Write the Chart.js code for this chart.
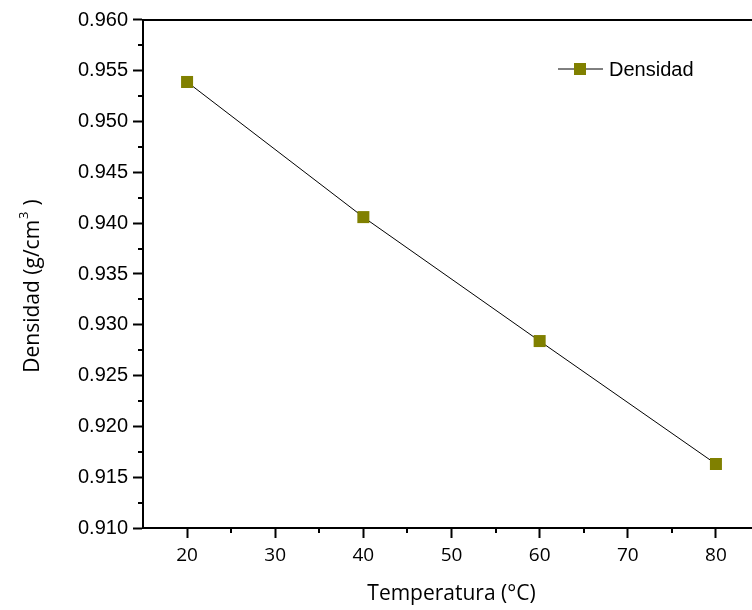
<!DOCTYPE html>
<html>
<head>
<meta charset="utf-8">
<script src="https://cdn.jsdelivr.net/npm/chart.js@4"></script>
<style>
  html, body { margin: 0; padding: 0; background: #fff; overflow: hidden; }
  #wrap { width: 770px; height: 610px; }
</style>
</head>
<body>
<div id="wrap"><canvas id="chart" width="770" height="610"></canvas></div>
<script>
// Datos
const temperaturas = [20, 40, 60, 80];
const densidades = [0.9539, 0.9406, 0.9284, 0.9163];
const serieNombre = 'Densidad';
const ejeX = 'Temperatura (°C)';
const ejeYTexto = 'Densidad (g/cm';
const ejeYSup = '3';

const OLIVA = '#808000';
const FUENTE_TITULO = '"Open Sans", sans-serif';
const FUENTE_NUM = '"Liberation Sans", Arial, sans-serif';

// Ticks menores, marco superior, título Y con superíndice y leyenda
const extras = {
    id: 'extras',
    afterDraw(chart) {
        const ctx = chart.ctx;
        const a = chart.chartArea;
        const x = chart.scales.x, y = chart.scales.y;
        ctx.save();
        ctx.strokeStyle = '#000';
        ctx.lineWidth = 2;
        // minor ticks
        ctx.beginPath();
        for (let v = 25; v < 85; v += 10) {
            const px = Math.round(x.getPixelForValue(v));
            ctx.moveTo(px, a.bottom);
            ctx.lineTo(px, a.bottom + 5);
        }
        for (let i = 0; i < 10; i++) {
            const v = 0.9125 + i * 0.005;
            const py = Math.round(y.getPixelForValue(v));
            ctx.moveTo(a.left, py);
            ctx.lineTo(a.left - 5, py);
        }
        ctx.stroke();
        // top frame
        ctx.beginPath();
        ctx.moveTo(a.left - 1, a.top);
        ctx.lineTo(a.right + 1, a.top);
        ctx.moveTo(a.right, a.top);
        ctx.lineTo(a.right, a.bottom);
        ctx.stroke();

        // y title
        ctx.fillStyle = '#000';
        ctx.textBaseline = 'alphabetic';
        ctx.translate(39, 286);
        ctx.rotate(-Math.PI / 2);
        ctx.font = '21px ' + FUENTE_TITULO;
        const w1 = ctx.measureText(ejeYTexto).width;
        const wp = ctx.measureText(')').width;
        ctx.font = '13px ' + FUENTE_TITULO;
        const ws = ctx.measureText(ejeYSup).width;
        const total = w1 + ws + 7 + wp;
        let sx = -total / 2;
        ctx.font = '21px ' + FUENTE_TITULO;
        ctx.fillText(ejeYTexto, sx, 0);
        sx += w1 + 1;
        ctx.font = '13px ' + FUENTE_TITULO;
        ctx.fillText(ejeYSup, sx, -11);
        sx += ws + 6;
        ctx.font = '21px ' + FUENTE_TITULO;
        ctx.fillText(')', sx, 0);
        ctx.setTransform(1, 0, 0, 1, 0, 0);

        // legend
        const ly = 69;
        ctx.strokeStyle = '#000';
        ctx.lineWidth = 1;
        ctx.beginPath();
        ctx.moveTo(558, ly);
        ctx.lineTo(603, ly);
        ctx.stroke();
        ctx.fillStyle = OLIVA;
        ctx.fillRect(574, ly - 6, 12, 12);
        ctx.fillStyle = '#000';
        ctx.font = '20px ' + FUENTE_NUM;
        ctx.textBaseline = 'middle';
        ctx.fillText(serieNombre, 609, ly + 1);
        ctx.restore();
    }
};

new Chart(document.getElementById('chart'), {
    type: 'line',
    data: {
        datasets: [{
            label: serieNombre,
            data: temperaturas.map((t, i) => ({ x: t, y: densidades[i] })),
            borderColor: '#000',
            borderWidth: 1,
            pointStyle: 'rect',
            pointRadius: 8.5,
            pointBackgroundColor: OLIVA,
            pointBorderColor: OLIVA,
            pointBorderWidth: 0,
            tension: 0
        }]
    },
    options: {
        responsive: false,
        animation: false,
        layout: { padding: { top: 20, right: 10, left: 0, bottom: 0 } },
        plugins: {
            legend: { display: false },
            tooltip: { enabled: false }
        },
        scales: {
            x: {
                type: 'linear',
                min: 15,
                max: 85,
                afterBuildTicks(scale) {
                    scale.ticks = temperaturas.concat([30, 50, 70]).sort((a, b) => a - b).map(v => ({ value: v }));
                },
                afterFit(scale) { scale.height = 82; },
                border: { display: true, color: '#000', width: 2 },
                grid: { drawOnChartArea: false, tickLength: 10, tickWidth: 2, tickColor: '#000' },
                ticks: {
                    color: '#000',
                    padding: 6,
                    font: { family: FUENTE_TITULO, size: 19 },
                    callback: v => v
                },
                title: {
                    display: true,
                    text: ejeX,
                    color: '#000',
                    padding: { top: 10, bottom: 3 },
                    font: { family: FUENTE_TITULO, size: 21 }
                }
            },
            y: {
                min: 0.910,
                max: 0.960,
                afterBuildTicks(scale) {
                    const t = [];
                    for (let i = 0; i <= 10; i++) t.push({ value: 0.910 + i * 0.005 });
                    scale.ticks = t;
                },
                afterFit(scale) { scale.width = 143; },
                border: { display: true, color: '#000', width: 2 },
                grid: { drawOnChartArea: false, tickLength: 10, tickWidth: 2, tickColor: '#000' },
                ticks: {
                    color: '#000',
                    padding: 5,
                    font: { family: FUENTE_NUM, size: 20 },
                    callback: v => Number(v).toFixed(3)
                },
                title: { display: false }
            }
        }
    },
    plugins: [extras]
});
</script>
</body>
</html>
